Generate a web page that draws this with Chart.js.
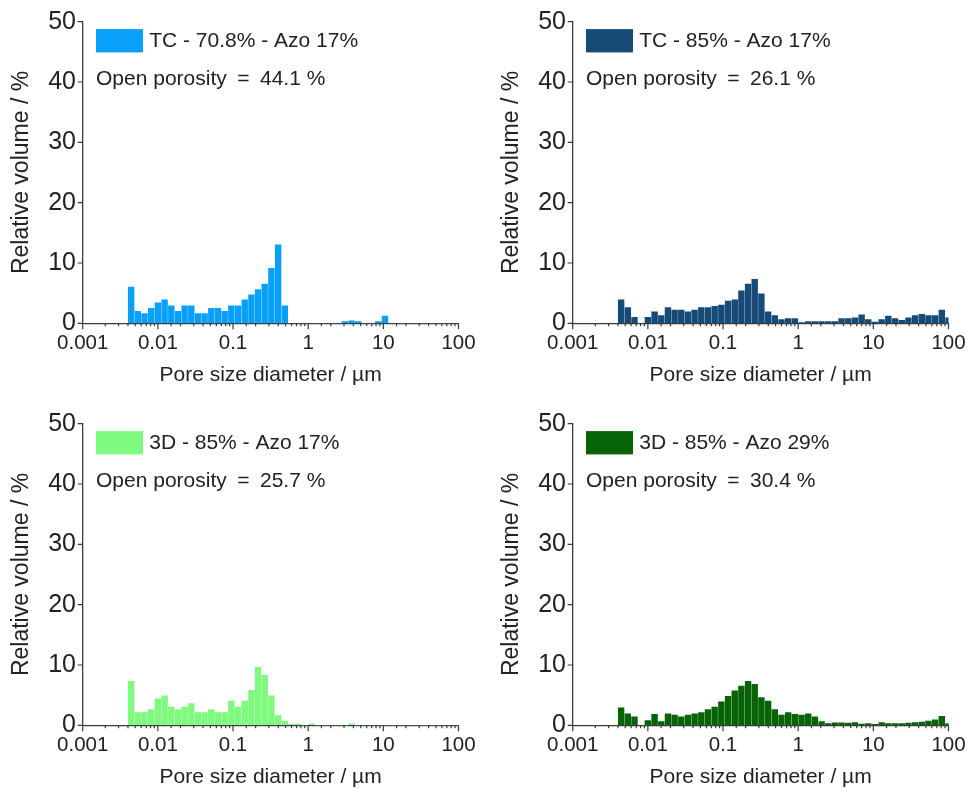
<!DOCTYPE html>
<html>
<head>
<meta charset="utf-8">
<script src="https://cdn.jsdelivr.net/npm/chart.js@4.4.1/dist/chart.umd.min.js"></script>
<style>
  html, body { margin: 0; padding: 0; background: #fff; width: 973px; height: 794px; overflow: hidden; }
  canvas.panel { position: absolute; }
</style>
</head>
<body>
<canvas id="p1" class="panel" width="483" height="393" style="left:0px;top:0px"></canvas>
<canvas id="p2" class="panel" width="483" height="393" style="left:490px;top:0px"></canvas>
<canvas id="p3" class="panel" width="483" height="393" style="left:0px;top:402px"></canvas>
<canvas id="p4" class="panel" width="483" height="393" style="left:490px;top:402px"></canvas>
<script>
// Pore diameter bin centres (µm), shared by all four distributions
const binCenters = [
  0.00441, 0.00541, 0.00664, 0.00815, 0.01, 0.0123, 0.0151, 0.0185, 0.0227, 0.0278,
  0.0342, 0.0419, 0.0514, 0.0631, 0.0774, 0.095, 0.117, 0.143, 0.176, 0.215,
  0.264, 0.324, 0.398, 0.489, 0.599, 0.736, 0.903, 1.11, 1.36, 1.67,
  2.05, 2.51, 3.08, 3.78, 4.64, 5.7, 6.99, 8.58, 10.5, 12.9,
  15.8, 19.4, 23.9, 29.3, 35.9, 44.1, 54.1, 66.4, 81.5, 100
];

// Relative volume (%) per bin
const tc708Azo17 = [
  6.0, 2.0, 1.6, 2.5, 3.4, 3.9, 2.9, 2.0, 2.9, 2.9,
  1.6, 1.6, 2.5, 2.5, 2.0, 2.9, 2.9, 3.9, 4.7, 5.6,
  6.5, 9.1, 13.0, 2.9, 0, 0, 0, 0, 0, 0,
  0, 0, 0.3, 0.4, 0.3, 0, 0, 0.3, 1.2, 0,
  0, 0, 0, 0, 0, 0, 0, 0, 0, 0
];
const tc85Azo17 = [
  3.9, 2.6, 1.0, 0, 1.0, 1.9, 1.3, 2.6, 2.2, 2.2,
  1.9, 2.2, 2.6, 2.6, 2.8, 3.0, 3.7, 3.9, 5.4, 6.5,
  7.3, 4.9, 1.9, 1.3, 0.6, 0.8, 0.8, 0.1, 0.3, 0.3,
  0.3, 0.3, 0.3, 0.8, 0.8, 0.9, 1.4, 0.6, 0.2, 0.6,
  1.2, 0.8, 0.5, 0.9, 1.3, 1.5, 1.3, 1.3, 2.2, 0.9
];
const d3_85Azo17 = [
  7.3, 2.1, 2.1, 2.6, 4.4, 4.9, 3.0, 2.6, 3.0, 3.6,
  2.1, 2.1, 2.6, 2.1, 2.1, 4.0, 3.0, 4.0, 5.8, 9.6,
  8.3, 4.9, 1.6, 0.65, 0.2, 0.2, 0, 0.2, 0, 0,
  0, 0, 0, 0.25, 0, 0, 0, 0, 0, 0,
  0, 0, 0, 0, 0, 0, 0, 0, 0, 0
];
const d3_85Azo29 = [
  2.9, 1.9, 1.4, 0, 0.8, 1.8, 0.6, 1.9, 1.7, 1.4,
  1.7, 1.9, 2.1, 2.6, 3.0, 3.9, 4.8, 5.7, 6.5, 7.3,
  6.8, 4.6, 4.0, 2.6, 1.7, 2.1, 1.8, 1.7, 1.9, 1.4,
  0.6, 0.3, 0.4, 0.4, 0.35, 0.45, 0.2, 0.3, 0.15, 0.45,
  0.3, 0.3, 0.3, 0.35, 0.45, 0.55, 0.7, 0.9, 1.5, 0.3
];

const seriesLabels = ['TC - 70.8% - Azo 17%', 'TC - 85% - Azo 17%', '3D - 85% - Azo 17%', '3D - 85% - Azo 29%'];
const openPorosity = [44.1, 26.1, 25.7, 30.4];

// Axis ticks
const xTickValues = [0.001, 0.01, 0.1, 1, 10, 100];
const xTickLabels = ['0.001', '0.01', '0.1', '1', '10', '100'];
const yTickLabels = ['0', '10', '20', '30', '40', '50'];

const FONT = "'Liberation Sans', Arial, Helvetica, sans-serif";
const TEXT = '#222222';
const AXIS = '#3a3a3a';

function isDecade(v) {
  const e = Math.log10(v);
  return Math.abs(e - Math.round(e)) < 1e-6;
}

// Outward tick marks: long at decades / multiples of 10, short for minor ticks
const tickMarks = {
  id: 'tickMarks',
  afterDraw(chart) {
    const { ctx, chartArea: a, scales: { x, y } } = chart;
    ctx.save();
    ctx.strokeStyle = AXIS;
    ctx.lineWidth = 1.2;
    ctx.beginPath();
    x.ticks.forEach(t => {
      const p = x.getPixelForValue(t.value);
      const len = isDecade(t.value) ? 6 : 3;
      ctx.moveTo(p, a.bottom);
      ctx.lineTo(p, a.bottom + len);
    });
    y.ticks.forEach(t => {
      const p = y.getPixelForValue(t.value);
      const len = t.value % 10 === 0 ? 5 : 3;
      ctx.moveTo(a.left, p);
      ctx.lineTo(a.left - len, p);
    });
    ctx.stroke();
    ctx.restore();
  }
};

// Colour key and porosity note in the upper-left of each plot
const panelKey = {
  id: 'panelKey',
  afterDraw(chart, args, opts) {
    const { ctx, chartArea: a } = chart;
    const ds = chart.data.datasets[0];
    ctx.save();
    ctx.fillStyle = ds.backgroundColor;
    ctx.fillRect(a.left + 13.3, a.top + 7.4, 47, 23.3);
    ctx.fillStyle = TEXT;
    ctx.font = '21px ' + FONT;
    ctx.textBaseline = 'middle';
    ctx.textAlign = 'left';
    ctx.fillText(ds.label, a.left + 66.5, a.top + 19.5);
    ctx.fillText('Open porosity\u2002=\u2002' + opts.porosity.toFixed(1) + ' %', a.left + 13.3, a.top + 57.5);
    ctx.restore();
  }
};

function makePanel(id, label, color, values, porosity) {
  return new Chart(document.getElementById(id), {
    type: 'bar',
    data: {
      datasets: [{
        label: label,
        data: binCenters.map((d, i) => ({ x: d, y: values[i] })),
        backgroundColor: color,
        borderWidth: 0,
        barThickness: 'flex',
        categoryPercentage: 1,
        barPercentage: 0.86,
        clip: 0
      }]
    },
    options: {
      responsive: false,
      animation: false,
      devicePixelRatio: 1,
      layout: { padding: { top: 20.3, right: 23, left: 0, bottom: 0 } },
      plugins: {
        legend: { display: false },
        tooltip: { enabled: false },
        panelKey: { porosity: porosity }
      },
      scales: {
        x: {
          type: 'logarithmic',
          min: 0.001,
          max: 100,
          offset: false,
          grid: { display: true, drawOnChartArea: false, drawTicks: false, offset: false },
          border: { display: true, color: AXIS, width: 1.3 },
          ticks: {
            autoSkip: false,
            maxRotation: 0,
            minRotation: 0,
            padding: 7.4,
            color: TEXT,
            font: { family: FONT, size: 20.5 },
            callback: (v) => {
              const i = xTickValues.findIndex(t => Math.abs(t - v) < t * 1e-6);
              return i >= 0 ? xTickLabels[i] : '';
            }
          },
          title: {
            display: true,
            text: 'Pore size diameter / µm',
            color: TEXT,
            font: { family: FONT, size: 21 },
            padding: { top: 0, bottom: 4.9 }
          },
          afterFit: (s) => { s.height = 393 - 323.3; }
        },
        y: {
          min: 0,
          max: 50,
          grid: { display: true, drawOnChartArea: false, drawTicks: false },
          border: { display: true, color: AXIS, width: 1.3 },
          ticks: {
            stepSize: 5,
            padding: 6.7,
            color: TEXT,
            font: { family: FONT, size: 25 },
            callback: (v) => (v % 10 === 0 ? yTickLabels[v / 10] : '')
          },
          title: {
            display: true,
            text: 'Relative volume / %',
            color: TEXT,
            font: { family: FONT, size: 23 },
            padding: { top: 7.7, bottom: 0 }
          },
          afterFit: (s) => { s.width = 82.7; }
        }
      }
    },
    plugins: [tickMarks, panelKey]
  });
}

makePanel('p1', seriesLabels[0], '#08a0fa', tc708Azo17, openPorosity[0]);
makePanel('p2', seriesLabels[1], '#154b76', tc85Azo17, openPorosity[1]);
makePanel('p3', seriesLabels[2], '#7efa7e', d3_85Azo17, openPorosity[2]);
makePanel('p4', seriesLabels[3], '#066406', d3_85Azo29, openPorosity[3]);
</script>
</body>
</html>
